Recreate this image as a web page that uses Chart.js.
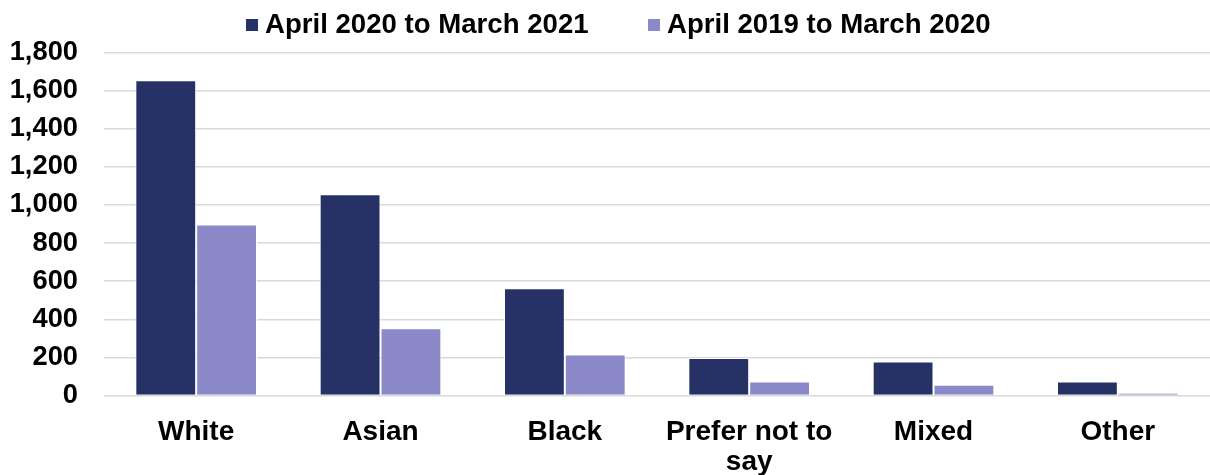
<!DOCTYPE html>
<html>
<head>
<meta charset="utf-8">
<script src="https://cdn.jsdelivr.net/npm/chart.js@4/dist/chart.umd.min.js"></script>
<style>
  html, body { margin: 0; padding: 0; background: #ffffff; }
  #wrap { width: 1210px; height: 475px; position: relative; }
</style>
</head>
<body>
<div id="wrap"><canvas id="c" width="1210" height="475"></canvas></div>
<script>
const categories = ['White', 'Asian', 'Black', ['Prefer not to', 'say'], 'Mixed', 'Other'];
const seriesNames = ['April 2020 to March 2021', 'April 2019 to March 2020'];
const values2021 = [1654, 1056, 563, 197, 178, 73];
const values2020 = [897, 353, 215, 74, 56, 14];
const yTicks = [0, 200, 400, 600, 800, 1000, 1200, 1400, 1600, 1800];

const colors = ['#263265', '#8b89c8'];
const FONT = '"Liberation Sans", Arial, sans-serif';

const customLegend = {
  id: 'customLegend',
  afterDraw(chart) {
    const ctx = chart.ctx;
    ctx.save();
    ctx.font = 'bold 27.6px ' + FONT;
    ctx.textBaseline = 'middle';
    ctx.textAlign = 'left';
    const items = [
      { box: 246, text: 265 },
      { box: 648, text: 667 }
    ];
    chart.data.datasets.forEach((ds, i) => {
      const it = items[i];
      ctx.fillStyle = ds.backgroundColor;
      ctx.fillRect(it.box, 19, 12, 12);
      ctx.fillStyle = '#000000';
      ctx.fillText(ds.label, it.text, 25);
    });
    ctx.restore();
  }
};

new Chart(document.getElementById('c'), {
  type: 'bar',
  data: {
    labels: categories,
    datasets: [
      { label: seriesNames[0], data: values2021, backgroundColor: colors[0], borderColor: '#ffffff', borderWidth: 1 },
      { label: seriesNames[1], data: values2020, backgroundColor: colors[1], borderColor: '#ffffff', borderWidth: 1 }
    ]
  },
  options: {
    responsive: false,
    animation: false,
    devicePixelRatio: 1,
    layout: { padding: { top: 52.5, left: 0, right: 0, bottom: 0 } },
    datasets: { bar: { categoryPercentage: 0.66, barPercentage: 1.0 } },
    plugins: {
      legend: { display: false },
      tooltip: { enabled: false }
    },
    scales: {
      x: {
        grid: { display: false },
        border: { display: false },
        ticks: {
          color: '#000000',
          font: { family: FONT, size: 28, weight: 'bold', lineHeight: 1.07 },
          padding: 14,
          maxRotation: 0,
          autoSkip: false
        },
        afterFit(axis) { axis.height = 79.5; }
      },
      y: {
        min: 0,
        max: 1800,
        afterBuildTicks(axis) { axis.ticks = yTicks.map(v => ({ value: v })); },
        grid: { color: '#d9d9d9', lineWidth: 1.5, drawTicks: false },
        border: { display: false },
        ticks: {
          color: '#000000',
          font: { family: FONT, size: 27.3, weight: 'bold' },
          padding: 26,
          callback: v => v.toLocaleString('en-US')
        },
        afterFit(axis) { axis.width = 104; }
      }
    }
  },
  plugins: [customLegend]
});
</script>
</body>
</html>
